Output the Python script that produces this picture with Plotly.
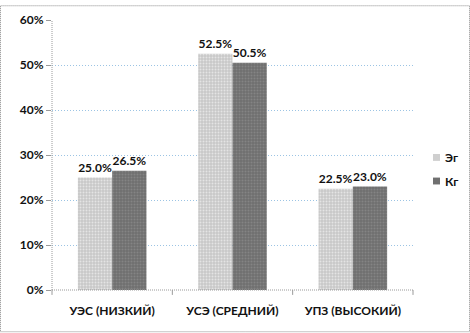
import plotly.graph_objects as go

categories = ["УЭС (НИЗКИЙ)", "УСЭ (СРЕДНИЙ)", "УПЗ (ВЫСОКИЙ)"]
series_names = ["Эг", "Кг"]
eg_values = [25.0, 52.5, 22.5]
kg_values = [26.5, 50.5, 23.0]
y_ticks = [0, 10, 20, 30, 40, 50, 60]
y_tick_labels = ["0%", "10%", "20%", "30%", "40%", "50%", "60%"]
series_colors = ["#cfcfcf", "#707070"]

W, H = 470, 333
L, R, T, B = 52, 57, 15, 43
pw, ph = W - L - R, H - T - B

FAMILY = "Lato, Open Sans, sans-serif"
font = dict(family=FAMILY, size=12, color="#111111", weight="bold")

fig = go.Figure()
fig.add_trace(go.Bar(
    x=categories, y=eg_values, name=series_names[0],
    marker=dict(color="#d4d4d4", line=dict(width=0),
                pattern=dict(shape=".", fgcolor="#ffffff", bgcolor="#c8c8c8", size=3, solidity=0.35)),
    texttemplate="%{y:.1f}%", textposition="outside", cliponaxis=False,
    textfont=font,
))
fig.add_trace(go.Bar(
    x=categories, y=kg_values, name=series_names[1],
    marker=dict(color="#7a7a7a", line=dict(width=0),
                pattern=dict(shape=".", fgcolor="#9a9a9a", bgcolor="#6e6e6e", size=3, solidity=0.35)),
    texttemplate="%{y:.1f}%", textposition="outside", cliponaxis=False,
    textfont=font,
))

def px_x(p):
    return (p - L) / pw

def px_y(p):
    return (H - B - p) / ph

shapes = [
    # outer dotted frame
    dict(type="rect", xref="paper", yref="paper",
         x0=px_x(0.5), x1=px_x(W - 0.5), y0=px_y(H - 0.5), y1=px_y(0.5),
         line=dict(color="#8c8c8c", width=1, dash="1px,1px"), layer="below"),
    # y axis line
    dict(type="line", xref="paper", yref="paper", x0=0, x1=0, y0=0, y1=1,
         line=dict(color="#9a9a9a", width=1, dash="1px,1px")),
    # x axis line
    dict(type="line", xref="paper", yref="paper", x0=0, x1=1, y0=0, y1=0,
         line=dict(color="#9a9a9a", width=1, dash="1px,1px")),
]
# category divider ticks below the x axis
for i in range(len(categories) + 1):
    shapes.append(dict(type="line", xref="paper", yref="paper",
                       x0=i / len(categories), x1=i / len(categories),
                       y0=0, y1=px_y(H - B + 5),
                       line=dict(color="#9a9a9a", width=1)))

# legend on the right: small swatches with series names
annotations = []
legend_rows = [155, 179]
for name, color, yc in zip(series_names, series_colors, legend_rows):
    shapes.append(dict(type="rect", xref="paper", yref="paper",
                       x0=px_x(433), x1=px_x(440), y0=px_y(yc + 3.5), y1=px_y(yc - 3.5),
                       fillcolor=color, line=dict(width=0)))
    annotations.append(dict(text=name, xref="paper", yref="paper",
                            x=px_x(443), y=px_y(yc), xanchor="left", yanchor="middle",
                            showarrow=False, font=font))

fig.update_layout(
    width=W, height=H,
    margin=dict(l=L, r=R, t=T, b=B),
    paper_bgcolor="white", plot_bgcolor="white",
    font=font,
    barmode="group", bargap=0.43, bargroupgap=0,
    showlegend=False,
    shapes=shapes,
    annotations=annotations,
    xaxis=dict(showgrid=False, showline=False, ticks="",
               tickfont=font, ticklabelstandoff=12),
    yaxis=dict(range=[0, 60], tickvals=y_ticks, ticktext=y_tick_labels,
               showgrid=True, gridcolor="#9cc4e4", griddash="1px,2px", gridwidth=1,
               zeroline=False, showline=False,
               ticks="outside", ticklen=5, tickcolor="#9a9a9a",
               tickfont=font),
)

fig.write_html("out.html")
